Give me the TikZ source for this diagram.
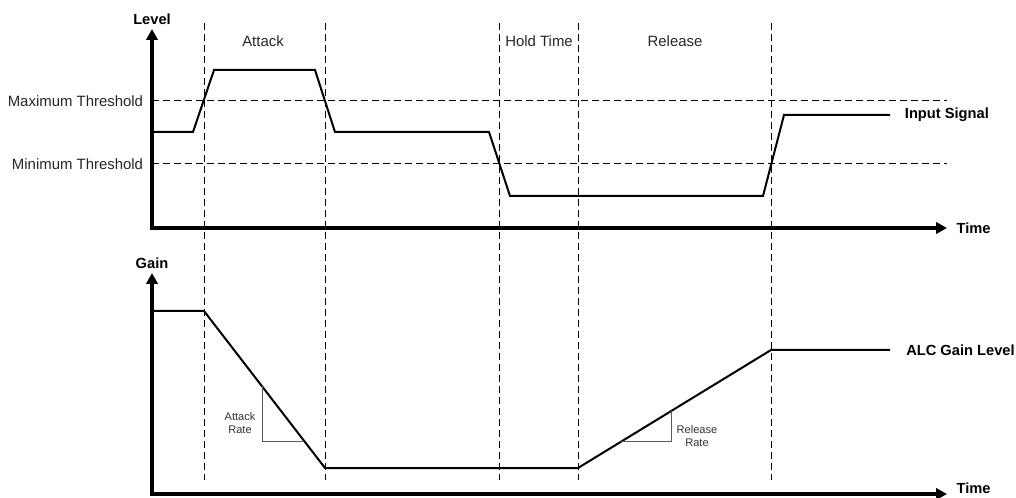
\documentclass[tikz,border=0pt]{standalone}
\usepackage{fontspec}
\setmainfont{Liberation Sans}
\usetikzlibrary{arrows.meta,positioning}

\begin{document}
\begin{tikzpicture}[x=0.75pt, y=-0.75pt, >={Triangle[length=8.25pt,width=8.5pt]},
  font=\fontsize{11.2}{13}\selectfont,
  ax/.style={line width=2.3pt, line join=miter},
  sig/.style={line width=1.5pt, line join=miter},
  dsh/.style={line width=0.75pt, dash pattern=on 5.25pt off 3pt},
  rate/.style={line width=0.75pt, draw=black!65},
  t/.style={inner sep=0pt, text=black!85},
  b/.style={inner sep=0pt, font=\fontsize{11}{13}\selectfont\bfseries},
  s/.style={inner sep=0pt, align=center, text=black!80,
            font=\fontsize{8.3}{9.6}\selectfont}]
  \useasboundingbox (0,0) rectangle (1016,498);
  \coordinate (ly) at (152,29);
  \coordinate (lx) at (947,228);
  \coordinate (gy) at (152,273);
  \coordinate (gx) at (947,494);
  \coordinate (maxl) at (152,101);
  \coordinate (maxr) at (947,101);
  \coordinate (minl) at (152,164);
  \coordinate (minr) at (947,164);
  \foreach \x in {204,325,499,578,771}
    \draw[dsh] (\x,23) -- (\x,480);
  \draw[dsh] (maxl) -- (maxr);
  \draw[dsh] (minl) -- (minr);
  \draw[ax,<->] (ly) |- (lx);
  \draw[ax,<->] (gy) |- (gx);
  \node[b, above=3pt of ly] (level) {Level};
  \node[b, right=7pt of lx] (time1) {Time};
  \node[b, above=3pt of gy] (gain) {Gain};
  \node[b, right=7pt of gx, yshift=4pt] (time2) {Time};
  \node[t, left=6.5pt of maxl] (maxt) {Maximum Threshold};
  \node[t, left=6.5pt of minl] (mint) {Minimum Threshold};
  \node[t] (attack) at (263,41) {Attack};
  \node[t] (hold) at (539,41) {Hold Time};
  \node[t] (release) at (675,41) {Release};
  \draw[sig] (152,132) -- (193,132) -- (214,70) -- (315,70) -- (335,132)
    -- (489,132) -- (510,196) -- (763,196) -- (784,115) -- (890,115)
    coordinate (inend);
  \node[b, right=11pt of inend] (input) {Input Signal};
  \draw[sig] (152,311) -- (204,311) -- (325,468) -- (578,468) -- (771,350)
    -- (890,350) coordinate (gend);
  \node[b, right=12pt of gend] (alc) {ALC Gain Level};
  \draw[rate] (262,386.3) -- (262,441) -- (304.2,441);
  \draw[rate] (621,441.7) -- (671,441.7) -- (671,411.1);
  \node[s] (arate) at (240,423) {Attack\\Rate};
  \node[s] (rrate) at (697,436) {Release\\Rate};
\end{tikzpicture}
\end{document}
